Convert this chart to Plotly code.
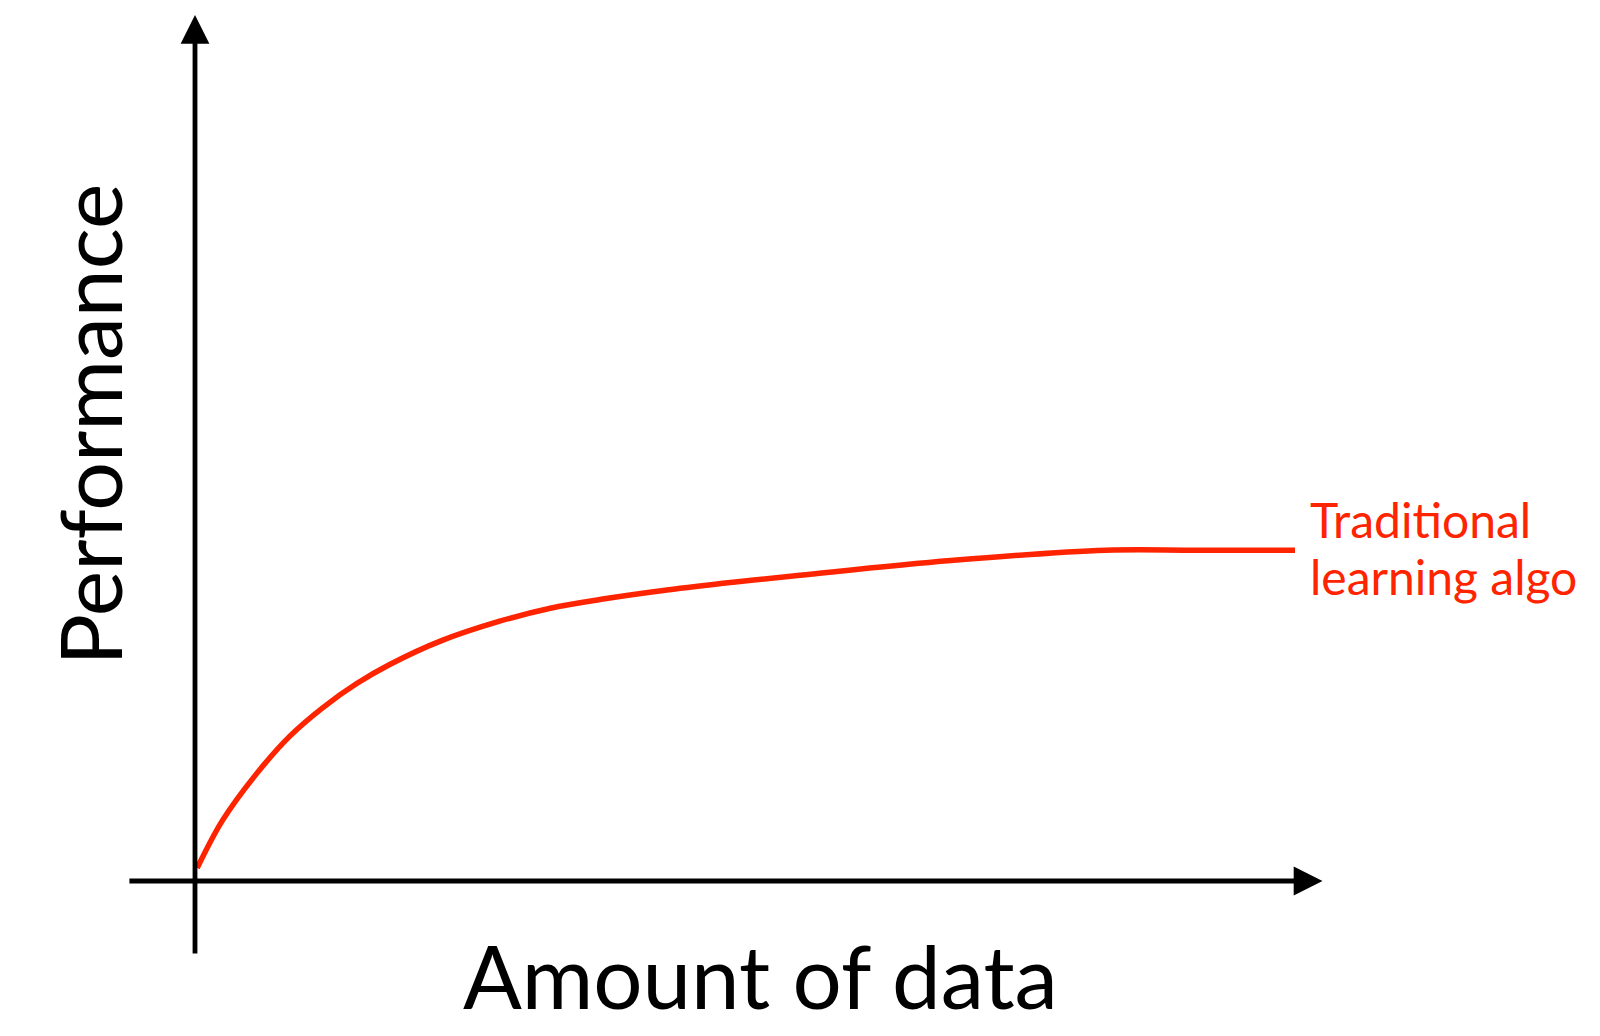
import plotly.graph_objects as go

# ---- data ----
amount = [0.2, 2.5, 5.6, 8.6, 11.6, 14.7, 17.7, 22.3, 27.7, 32.3, 36.8, 42.9, 48.9, 55.0, 68.7, 82.8, 91.0, 100.0]
performance = [1.5, 7.0, 12.4, 16.7, 20.0, 22.8, 25.0, 27.7, 30.0, 31.5, 32.5, 33.6, 34.5, 35.3, 37.0, 38.2, 38.2, 38.2]

series_label_lines = ["Traditional", "learning algo"]
x_title = "Amount of data"
y_title = "Performance"

# axis arrow extents (data units)
x_axis_from, x_axis_to = -6.1, 102.5
y_axis_from, y_axis_to = -8.55, 100.0

RED = "rgb(255,36,0)"
FONT = "Lato"

fig = go.Figure()
fig.add_trace(go.Scatter(x=amount, y=performance, mode="lines",
                         line=dict(color=RED, width=5.5, shape="spline", smoothing=1.0),
                         hoverinfo="skip", showlegend=False))

# axes with arrowheads
fig.add_annotation(x=x_axis_to, y=0, ax=x_axis_from, ay=0, xref="x", yref="y",
                   axref="x", ayref="y", text="", showarrow=True, arrowhead=2,
                   arrowwidth=4.8, arrowsize=1.2, arrowcolor="black")
fig.add_annotation(x=0, y=y_axis_to, ax=0, ay=y_axis_from, xref="x", yref="y",
                   axref="x", ayref="y", text="", showarrow=True, arrowhead=2,
                   arrowwidth=4.8, arrowsize=1.2, arrowcolor="black")

# axis titles
fig.add_annotation(x=51.4, y=-10.9, xref="x", yref="y", text=x_title, showarrow=False,
                   font=dict(family=FONT, size=87, color="black"),
                   xanchor="center", yanchor="middle")
fig.add_annotation(x=-9.64, y=52.7, xref="x", yref="y", text=y_title, showarrow=False,
                   textangle=-90, font=dict(family=FONT, size=86, color="black"),
                   xanchor="center", yanchor="middle")

# series label
for txt, yy in zip(series_label_lines, [41.8, 35.2]):
    fig.add_annotation(x=101.2, y=yy, xref="x", yref="y", text=txt, showarrow=False,
                       font=dict(family=FONT, size=48, color=RED),
                       xanchor="left", yanchor="middle")

px_per_x = 11.0
px_per_y = 8.66
fig.update_layout(
    width=1600, height=1036,
    margin=dict(l=0, r=0, t=0, b=0),
    paper_bgcolor="white", plot_bgcolor="white",
    xaxis=dict(visible=False, range=[-195 / px_per_x, (1600 - 195) / px_per_x], fixedrange=True),
    yaxis=dict(visible=False, range=[-(1036 - 881) / px_per_y, 881 / px_per_y], fixedrange=True),
)

fig.write_html("out.html", config={"displayModeBar": False},
               post_script="document.body.style.margin='0';")
